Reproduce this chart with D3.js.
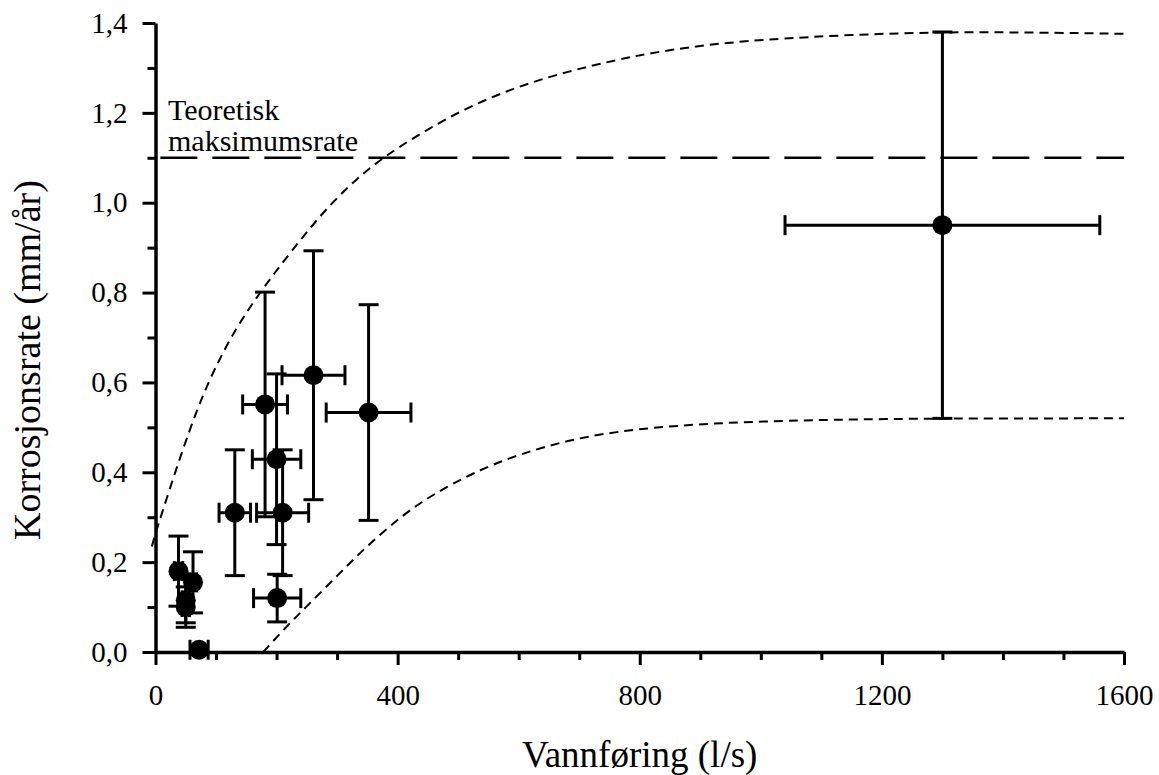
<!DOCTYPE html>
<html>
<head>
<meta charset="utf-8">
<script src="https://cdn.jsdelivr.net/npm/d3@7"></script>
<style>
  html, body { margin: 0; padding: 0; background: #fff; }
  svg text { font-family: "Liberation Serif", "Times New Roman", serif; fill: #000; }
</style>
</head>
<body>
<svg id="chart" width="1159" height="775"></svg>
<script>

// Measured points: flow (l/s), corrosion rate (mm/år) and their error ranges
var flow      = [38, 62, 50, 50, 72, 131, 181, 200, 210, 201, 261, 352, 1300];
var rate      = [0.180, 0.155, 0.115, 0.100, 0.005, 0.31, 0.551, 0.429, 0.31, 0.12, 0.616, 0.533, 0.95];
var flowErr   = [7, 6, 6, 6, 15, 26, 37, 40, 43, 39, 52, 70, 260];
var rateErr   = [0.078, 0.068, 0.05, 0.045, 0, 0.14, 0.25, 0.19, 0.14, 0.053, 0.277, 0.24, 0.43];

// Upper envelope (short dashes)
var upperFlow = [-6, 0, 46, 85, 134, 178, 206, 244, 283, 333, 379, 432, 514, 597, 680, 762, 817, 900, 1000, 1150, 1300, 1450, 1600];
var upperRate = [0.235, 0.265, 0.457, 0.599, 0.725, 0.81, 0.86, 0.925, 0.988, 1.055, 1.103, 1.150, 1.212, 1.258, 1.292, 1.318, 1.333, 1.350, 1.363, 1.374, 1.380, 1.379, 1.376];

// Lower envelope (short dashes)
var lowerFlow = [178, 220, 251, 302, 346, 409, 460, 523, 599, 694, 789, 915, 1042, 1200, 1400, 1600];
var lowerRate = [0, 0.062, 0.103, 0.172, 0.232, 0.306, 0.352, 0.398, 0.440, 0.476, 0.496, 0.509, 0.515, 0.519, 0.520, 0.520];

// Theoretical maximum rate line
var maxRate = 1.1;
var maxRateFlow = [8, 1600];

// Ticks
var xMajor = [0, 400, 800, 1200, 1600];
var xMinor = [100, 200, 300, 500, 600, 700, 900, 1000, 1100, 1300, 1400, 1500];
var yMajor = [0, 0.2, 0.4, 0.6, 0.8, 1.0, 1.2, 1.4];
var yMinor = [0.1, 0.3, 0.5, 0.7, 0.9, 1.1, 1.3];

var svg = d3.select('#chart');

/*****************************/
// Scales
/*****************************/

var x = d3.scaleLinear().domain([0, 1600]).range([155.5, 1124]);
var y = d3.scaleLinear().domain([0, 1.4]).range([652, 23]);

var commaFormat = function(d) { return d3.format('.1f')(d).replace('.', ','); };

/*****************************/
// Axes
/*****************************/

// Minor ticks first (no labels, no domain)
var xMinorAxis = svg.append('g')
    .attr('transform', 'translate(0,' + y(0) + ')')
    .call(d3.axisBottom(x).tickValues(xMinor).tickSize(8).tickFormat(''));
xMinorAxis.select('.domain').remove();

var yMinorAxis = svg.append('g')
    .attr('transform', 'translate(' + x(0) + ',0)')
    .call(d3.axisLeft(y).tickValues(yMinor).tickSize(8).tickFormat(''));
yMinorAxis.select('.domain').remove();

var xAxis = svg.append('g')
    .attr('transform', 'translate(0,' + y(0) + ')')
    .call(d3.axisBottom(x).tickValues(xMajor).tickSize(13).tickSizeOuter(0).tickPadding(19).tickFormat(d3.format('d')));

var yAxis = svg.append('g')
    .attr('transform', 'translate(' + x(0) + ',0)')
    .call(d3.axisLeft(y).tickValues(yMajor).tickSize(13).tickSizeOuter(0).tickPadding(15).tickFormat(commaFormat));

svg.selectAll('.domain').attr('stroke', '#000').attr('stroke-width', 3.5);
svg.selectAll('.tick line').attr('stroke', '#000').attr('stroke-width', 3);
svg.selectAll('.tick text').attr('font-size', '29px').attr('font-family', '"Liberation Serif", "Times New Roman", serif');

// Axis titles
svg.append('text')
    .attr('x', (x(0) + x(1600)) / 2)
    .attr('y', 767)
    .attr('text-anchor', 'middle')
    .attr('font-size', '37px')
    .text('Vannføring (l/s)');

svg.append('text')
    .attr('transform', 'translate(40,540) rotate(-90)')
    .attr('text-anchor', 'start')
    .attr('font-size', '38px')
    .text('Korrosjonsrate (mm/år)');

/*****************************/
// Reference lines
/*****************************/

svg.append('line')
    .attr('x1', x(maxRateFlow[0]))
    .attr('x2', x(maxRateFlow[1]))
    .attr('y1', y(maxRate))
    .attr('y2', y(maxRate))
    .attr('stroke', '#000')
    .attr('stroke-width', 2.5)
    .attr('stroke-dasharray', '37,15');

svg.append('text')
    .attr('x', 168)
    .attr('y', 120)
    .attr('font-size', '30px')
    .text('Teoretisk');

svg.append('text')
    .attr('x', 168)
    .attr('y', 151)
    .attr('font-size', '30px')
    .text('maksimumsrate');

var envelope = d3.line()
    .x(function(d) { return x(d[0]); })
    .y(function(d) { return y(d[1]); })
    .curve(d3.curveBasis);

svg.append('path')
    .datum(d3.zip(upperFlow, upperRate))
    .attr('d', envelope)
    .attr('fill', 'none')
    .attr('stroke', '#000')
    .attr('stroke-width', 2)
    .attr('stroke-dasharray', '9,6');

svg.append('path')
    .datum(d3.zip(lowerFlow, lowerRate))
    .attr('d', envelope)
    .attr('fill', 'none')
    .attr('stroke', '#000')
    .attr('stroke-width', 2)
    .attr('stroke-dasharray', '9,6');

/*****************************/
// Error bars and points
/*****************************/

var data = flow.map(function(d, i) {
    return { q: d, r: rate[i], qe: flowErr[i], re: rateErr[i] };
});

var cap = 10;

var bars = svg.append('g')
    .attr('stroke', '#000')
    .attr('stroke-width', 3)
    .attr('fill', 'none');

data.forEach(function(d) {
    var cx = x(d.q), cy = y(d.r);

    if (d.re > 0) {
        var top = y(d.r + d.re), bot = y(d.r - d.re);
        bars.append('line').attr('x1', cx).attr('x2', cx).attr('y1', top).attr('y2', bot);
        bars.append('line').attr('x1', cx - cap).attr('x2', cx + cap).attr('y1', top).attr('y2', top);
        bars.append('line').attr('x1', cx - cap).attr('x2', cx + cap).attr('y1', bot).attr('y2', bot);
    }

    if (d.qe > 0) {
        var left = x(d.q - d.qe), right = x(d.q + d.qe);
        bars.append('line').attr('x1', left).attr('x2', right).attr('y1', cy).attr('y2', cy);
        bars.append('line').attr('x1', left).attr('x2', left).attr('y1', cy - cap).attr('y2', cy + cap);
        bars.append('line').attr('x1', right).attr('x2', right).attr('y1', cy - cap).attr('y2', cy + cap);
    }
});

svg.append('g')
    .selectAll('circle')
    .data(data)
    .enter()
    .append('circle')
    .attr('cx', function(d) { return x(d.q); })
    .attr('cy', function(d) { return y(d.r); })
    .attr('r', 10)
    .attr('fill', '#000');

</script>
</body>
</html>
